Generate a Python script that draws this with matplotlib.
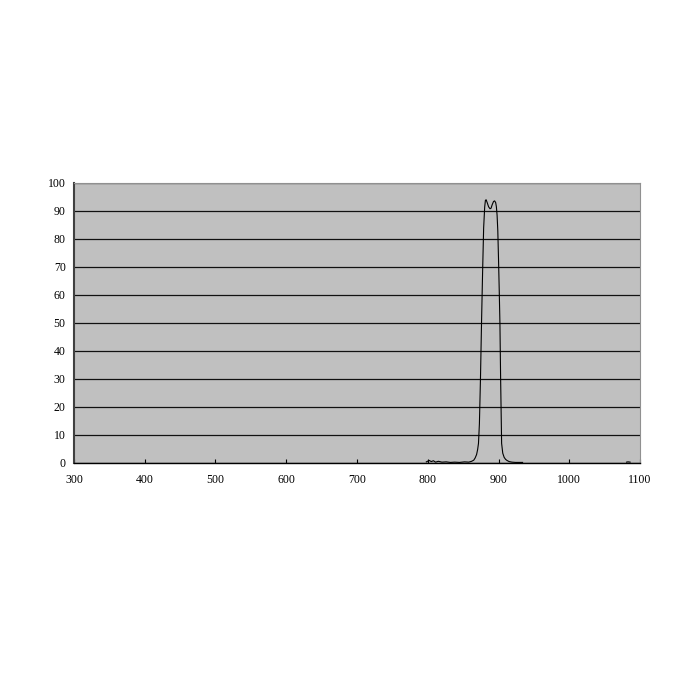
import numpy as np
import matplotlib.pyplot as plt

# transmission curve
wl = [798, 802, 805, 808, 811, 815, 820, 826, 832, 838, 845, 852, 858, 862, 865, 867,
      869, 870.5, 871.7, 873, 874.5, 876, 877.5, 879, 880.5, 881.5, 882.5, 884, 886,
      888, 889.5, 891, 893, 894.5, 896, 897, 898, 899, 900, 901, 902, 903, 904.4,
      906, 908, 910, 912, 915, 919, 924, 930, 934]
tr = [0.4, 0.9, 0.5, 0.8, 0.3, 0.6, 0.3, 0.4, 0.2, 0.3, 0.2, 0.4, 0.3, 0.6, 1.0, 1.8,
      3.0, 4.8, 7.0, 14, 30, 50, 68, 84, 91.5, 93.8, 94.0, 93.0, 91.5,
      90.8, 91.0, 92.2, 93.4, 93.6, 93.0, 91.5, 88.5, 83, 73, 62, 50, 30, 7.0,
      3.5, 2.0, 1.3, 0.9, 0.5, 0.3, 0.2, 0.2, 0.2]

# little stray segment near 1080 nm
wl2 = [1081, 1083, 1086]
tr2 = [0.3, 0.4, 0.3]

xticks = [300, 400, 500, 600, 700, 800, 900, 1000, 1100]
yticks = [0, 10, 20, 30, 40, 50, 60, 70, 80, 90, 100]

fig = plt.figure(figsize=(7, 7), dpi=100)
ax = fig.add_axes([0.1057, 0.3386, 0.8086, 0.4])
ax.set_facecolor('#C0C0C0')

ax.plot(wl, tr, color='black', lw=0.8)
ax.plot(wl2, tr2, color='black', lw=0.8)

ax.set_xlim(300, 1100)
ax.set_ylim(0, 100)
ax.set_xticks(xticks)
ax.set_yticks(yticks)
ax.grid(axis='y', color='#111111', lw=0.9)
ax.set_axisbelow(True)

ax.tick_params(axis='x', direction='in', length=3, width=0.8, labelsize=8.5, pad=8)
ax.tick_params(axis='y', length=0, labelsize=8.5, pad=6)
for lab in ax.get_xticklabels() + ax.get_yticklabels():
    lab.set_family('Liberation Serif')

ax.spines['left'].set_color('#404040')
ax.spines['left'].set_linewidth(1.5)
ax.spines['bottom'].set_color('black')
ax.spines['bottom'].set_linewidth(1.0)
ax.spines['top'].set_color('#909090')
ax.spines['right'].set_color('#909090')

plt.savefig('out.png')
plt.close()
